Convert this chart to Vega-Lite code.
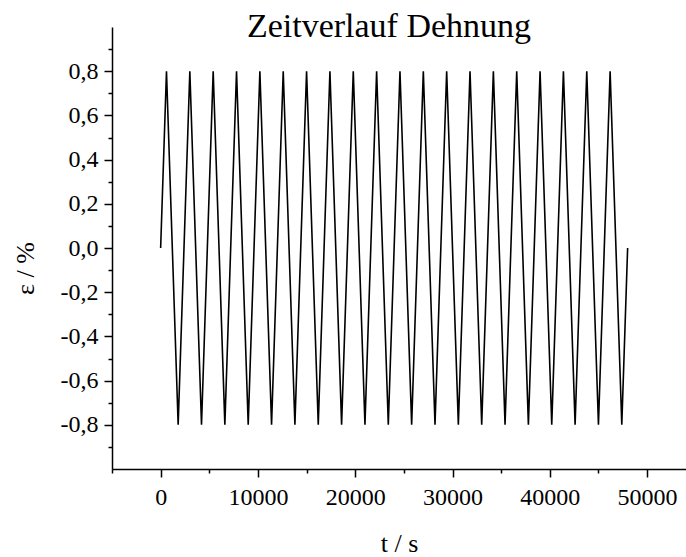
{
  "$schema": "https://vega.github.io/schema/vega-lite/v6.json",
  "autosize": {"type": "none"},
  "padding": {"left": 112, "top": 27, "right": 0, "bottom": 88},
  "width": 574,
  "height": 442,
  "background": "white",
  "title": {
    "text": "Zeitverlauf Dehnung",
    "font": "Liberation Serif",
    "fontSize": 34,
    "fontWeight": "normal",
    "color": "black",
    "anchor": "middle",
    "baseline": "alphabetic",
    "offset": -44,
    "dx": -10
  },
  "data": {
    "values": [
      {"t": 0, "e": 0},
      {"t": 600, "e": 0.8}, {"t": 1800, "e": -0.8},
      {"t": 3000, "e": 0.8}, {"t": 4200, "e": -0.8},
      {"t": 5400, "e": 0.8}, {"t": 6600, "e": -0.8},
      {"t": 7800, "e": 0.8}, {"t": 9000, "e": -0.8},
      {"t": 10200, "e": 0.8}, {"t": 11400, "e": -0.8},
      {"t": 12600, "e": 0.8}, {"t": 13800, "e": -0.8},
      {"t": 15000, "e": 0.8}, {"t": 16200, "e": -0.8},
      {"t": 17400, "e": 0.8}, {"t": 18600, "e": -0.8},
      {"t": 19800, "e": 0.8}, {"t": 21000, "e": -0.8},
      {"t": 22200, "e": 0.8}, {"t": 23400, "e": -0.8},
      {"t": 24600, "e": 0.8}, {"t": 25800, "e": -0.8},
      {"t": 27000, "e": 0.8}, {"t": 28200, "e": -0.8},
      {"t": 29400, "e": 0.8}, {"t": 30600, "e": -0.8},
      {"t": 31800, "e": 0.8}, {"t": 33000, "e": -0.8},
      {"t": 34200, "e": 0.8}, {"t": 35400, "e": -0.8},
      {"t": 36600, "e": 0.8}, {"t": 37800, "e": -0.8},
      {"t": 39000, "e": 0.8}, {"t": 40200, "e": -0.8},
      {"t": 41400, "e": 0.8}, {"t": 42600, "e": -0.8},
      {"t": 43800, "e": 0.8}, {"t": 45000, "e": -0.8},
      {"t": 46200, "e": 0.8}, {"t": 47400, "e": -0.8},
      {"t": 48000, "e": 0}
    ]
  },
  "mark": {"type": "line", "color": "black", "strokeWidth": 1.6},
  "encoding": {
    "x": {
      "field": "t",
      "type": "quantitative",
      "scale": {"domain": [-5000, 54000], "nice": false, "zero": false},
      "axis": {
        "title": "t / s",
        "values": [-5000, 0, 5000, 10000, 15000, 20000, 25000, 30000, 35000, 40000, 45000, 50000],
        "labelExpr": "datum.value % 10000 == 0 ? format(datum.value, 'd') : ''",
        "tickSize": {"condition": {"test": "datum.value % 10000 == 0", "value": 8}, "value": 4},
        "labelPadding": 8,
        "titlePadding": 21,
        "labelFlush": false,
        "labelOverlap": false
      }
    },
    "y": {
      "field": "e",
      "type": "quantitative",
      "scale": {"domain": [-1, 1], "nice": false, "zero": false},
      "axis": {
        "title": "ε / %",
        "values": [-0.9, -0.8, -0.7, -0.6, -0.5, -0.4, -0.3, -0.2, -0.1, 0, 0.1, 0.2, 0.3, 0.4, 0.5, 0.6, 0.7, 0.8, 0.9],
        "labelExpr": "abs(round(datum.value * 10)) % 2 == 0 ? (datum.value < -0.001 ? '-' : '') + replace(format(abs(datum.value), '.1f'), '.', ',') : ''",
        "tickSize": {"condition": {"test": "abs(round(datum.value * 10)) % 2 == 0", "value": 8}, "value": 4},
        "labelPadding": 6,
        "titlePadding": 22,
        "titleY": 241,
        "labelFlush": false,
        "labelOverlap": false
      }
    }
  },
  "config": {
    "view": {"stroke": null},
    "axis": {
      "grid": false,
      "domainColor": "black",
      "domainWidth": 1.5,
      "tickColor": "black",
      "tickWidth": 1.5,
      "labelFont": "Liberation Serif",
      "labelFontSize": 24,
      "labelColor": "black",
      "titleFont": "Liberation Serif",
      "titleFontSize": 26,
      "titleFontWeight": "normal",
      "titleColor": "black"
    }
  }
}
